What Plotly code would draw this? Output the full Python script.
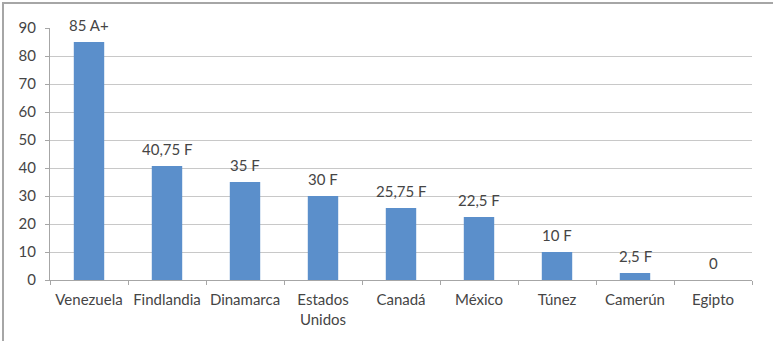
import plotly.graph_objects as go

# Data
paises = ["Venezuela", "Findlandia", "Dinamarca", "Estados<br>Unidos", "Canadá",
          "México", "Túnez", "Camerún", "Egipto"]
puntaje = [85, 40.75, 35, 30, 25.75, 22.5, 10, 2.5, 0]
calificacion = ["A+", "F", "F", "F", "F", "F", "F", "F", ""]
y_ticks = [0, 10, 20, 30, 40, 50, 60, 70, 80, 90]


def etiqueta(valor, nota):
    txt = f"{valor:g}".replace(".", ",")
    return f"{txt} {nota}".strip()


W, H = 773, 341
L, R, T, B = 50, 21, 28, 61
pw, ph = W - L - R, H - T - B
FONT = "Lato, Open Sans, sans-serif"
TXT = "#454545"

fig = go.Figure()
fig.add_trace(go.Bar(
    x=paises, y=puntaje,
    marker=dict(color="#5b8fcb", line=dict(width=0)),
    width=0.39,
    hoverinfo="skip",
))

for p, v, n in zip(paises, puntaje, calificacion):
    fig.add_annotation(
        x=p, y=v, text=etiqueta(v, n), showarrow=False,
        yanchor="bottom", yshift=6,
        font=dict(size=15, color=TXT, family=FONT),
    )

# outer frame
fig.add_shape(
    type="rect", xref="paper", yref="paper",
    x0=(3 - L) / pw, x1=(W + 10 - L) / pw,
    y0=-(H + 10 - T - ph) / ph, y1=1 + (T - 3) / ph,
    line=dict(color="#a6a6a6", width=2), layer="below",
)

fig.update_layout(
    width=W, height=H,
    margin=dict(l=L, r=R, t=T, b=B, autoexpand=False),
    paper_bgcolor="white", plot_bgcolor="white",
    showlegend=False,
    bargap=0.61,
    font=dict(family=FONT, size=15, color=TXT),
)
fig.update_xaxes(
    showline=True, linecolor="#a6a6a6", linewidth=1,
    ticks="outside", tickson="boundaries", ticklen=4, tickcolor="#a6a6a6",
    showgrid=False, tickfont=dict(size=15, color=TXT),
    tickangle=0, automargin=False,
    ticklabelstandoff=6,
)
fig.update_yaxes(
    range=[0, 90], tickvals=y_ticks,
    showline=True, linecolor="#a6a6a6", linewidth=1,
    ticks="outside", ticklen=4, tickcolor="#a6a6a6",
    showgrid=True, gridcolor="#c8c8c8", gridwidth=1,
    zeroline=False, automargin=False,
    tickfont=dict(size=15, color=TXT),
    ticklabelstandoff=6,
)

fig.write_html("out.html")
